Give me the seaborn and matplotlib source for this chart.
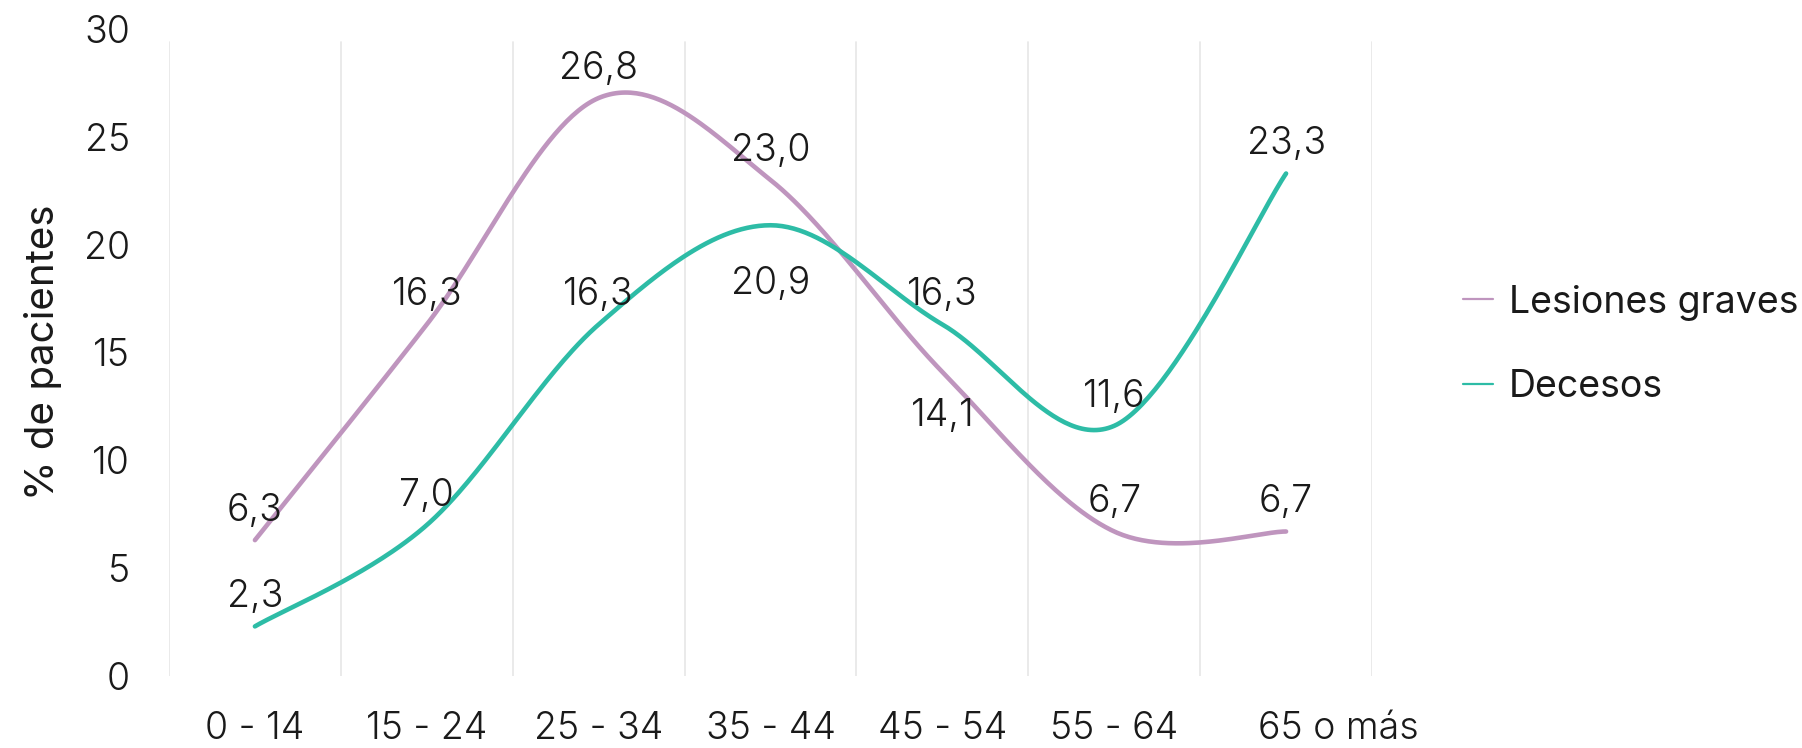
import numpy as np
import pandas as pd
import matplotlib
matplotlib.use("Agg")
import matplotlib.pyplot as plt
import matplotlib.transforms as mtransforms
from matplotlib.lines import Line2D
import seaborn as sns

# ------------------------------------------------------------
# Data
# ------------------------------------------------------------
categories = ["0 - 14", "15 - 24", "25 - 34", "35 - 44", "45 - 54", "55 - 64", "65 o más"]
lesiones = [6.3, 16.3, 26.8, 23.0, 14.1, 6.7, 6.7]
decesos = [2.3, 7.0, 16.3, 20.9, 16.3, 11.6, 23.3]
series_names = ["Lesiones graves", "Decesos"]
y_ticks = [0, 5, 10, 15, 20, 25, 30]

COLORS = {"Lesiones graves": "#BF95BE", "Decesos": "#2DBCA6"}
TEXT = "#1a1a1a"
FS = 27
WT = 300


# ------------------------------------------------------------
# Helper: Excel-like smoothed line (Catmull-Rom / Bezier)
# ------------------------------------------------------------
def smooth_curve(xs, ys, n=60):
    pts = np.column_stack([xs, ys]).astype(float)
    ext = np.vstack([pts[0], pts, pts[-1]])
    out = []
    for i in range(len(pts) - 1):
        p0, p1, p2, p3 = ext[i], ext[i + 1], ext[i + 2], ext[i + 3]
        c1 = p1 + (p2 - p0) / 6.0
        c2 = p2 - (p3 - p1) / 6.0
        t = np.linspace(0, 1, n)[:, None]
        seg = ((1 - t) ** 3) * p1 + 3 * ((1 - t) ** 2) * t * c1 + 3 * (1 - t) * t ** 2 * c2 + t ** 3 * p2
        out.append(seg if i == 0 else seg[1:])
    out = np.vstack(out)
    return out[:, 0], out[:, 1]


xpos = np.arange(len(categories))
frames = []
for name, vals in zip(series_names, [lesiones, decesos]):
    sx, sy = smooth_curve(xpos, vals)
    frames.append(pd.DataFrame({"x": sx, "y": sy, "serie": name}))
df = pd.concat(frames, ignore_index=True)

# ------------------------------------------------------------
# Plot
# ------------------------------------------------------------
sns.set_theme(style="white")
plt.rcParams["font.family"] = ["Inter", "DejaVu Sans"]

fig = plt.figure(figsize=(18.02, 7.48), dpi=100)
ax = fig.add_axes([169 / 1802, 1 - 676 / 748, (1372 - 169) / 1802, (676 - 29) / 748])

# vertical gridlines between categories
for b in np.arange(len(categories) + 1) - 0.5:
    ax.axvline(b, ymin=0, ymax=0.98, color="#E6E6E6", lw=1.2, zorder=0)

sns.lineplot(data=df, x="x", y="y", hue="serie", units="serie", estimator=None,
             sort=False, palette=COLORS, lw=3.3, legend=False, ax=ax,
             solid_capstyle="round")

# data labels
below = {("Decesos", 3): 42, ("Lesiones graves", 4): 32}
for name, vals in zip(series_names, [lesiones, decesos]):
    for i, v in enumerate(vals):
        off = -below[(name, i)] if (name, i) in below else 21
        ax.annotate(f"{v:.1f}".replace(".", ","), (i, v), xytext=(0, off),
                    textcoords="offset points", ha="center", va="center",
                    fontsize=FS, color=TEXT, fontweight=WT)

ax.set_xlim(-0.5, len(categories) - 0.5)
ax.set_ylim(0, 30)
ax.set_yticks(y_ticks)
ax.set_yticklabels([str(t) for t in y_ticks], fontsize=FS, color=TEXT, fontweight=WT)
ax.set_xticks(xpos)
ax.set_xticklabels(categories, fontsize=FS, color=TEXT, fontweight=WT)
ax.tick_params(axis="x", length=0, pad=25)
ax.tick_params(axis="y", length=0, pad=28)
ax.set_xlabel("")
ax.set_ylabel("% de pacientes", fontsize=29, color=TEXT, labelpad=16)
for s in ax.spines.values():
    s.set_visible(False)

# last label sits a bit to the right in the original
last = ax.get_xticklabels()[-1]
last.set_transform(last.get_transform() + mtransforms.ScaledTranslation(52 / 100, 0, fig.dpi_scale_trans))

handles = [Line2D([], [], color=COLORS[n], lw=1.6) for n in series_names]
fig.legend(handles, series_names, loc="center left", bbox_to_anchor=(1463 / 1802, 1 - 345 / 748),
           frameon=False, fontsize=27, handlelength=0.8, handletextpad=0.42,
           labelspacing=1.3, borderpad=0, borderaxespad=0, labelcolor=TEXT)

fig.savefig("out.png", dpi=100, facecolor="white")
